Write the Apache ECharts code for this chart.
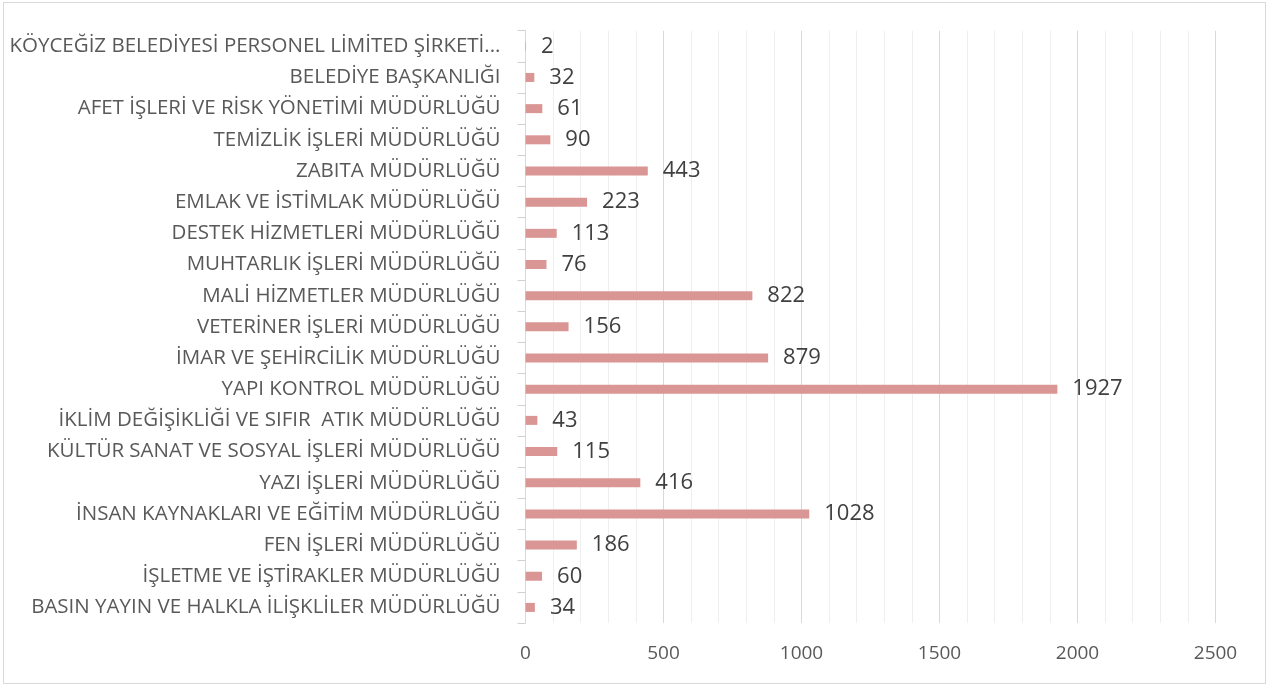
<!DOCTYPE html>
<html>
<head>
<meta charset="utf-8">
<script src="https://cdn.jsdelivr.net/npm/echarts@6/dist/echarts.min.js"></script>
<style>
html,body{margin:0;padding:0;background:#fff;}
#wrap{position:absolute;left:3px;top:2px;width:1263px;height:682px;border:1px solid #d9d9d9;box-sizing:border-box;}
#chart{position:absolute;left:0;top:0;width:1269px;height:686px;}
</style>
</head>
<body>
<div id="wrap"></div>
<div id="chart"></div>
<script>
const categories = [
  "KÖYCEĞİZ BELEDİYESİ PERSONEL LİMİTED ŞİRKETİ...",
  "BELEDİYE BAŞKANLIĞI",
  "AFET İŞLERİ VE RİSK YÖNETİMİ MÜDÜRLÜĞÜ",
  "TEMİZLİK İŞLERİ MÜDÜRLÜĞÜ",
  "ZABITA MÜDÜRLÜĞÜ",
  "EMLAK VE İSTİMLAK MÜDÜRLÜĞÜ",
  "DESTEK HİZMETLERİ MÜDÜRLÜĞÜ",
  "MUHTARLIK İŞLERİ MÜDÜRLÜĞÜ",
  "MALİ HİZMETLER MÜDÜRLÜĞÜ",
  "VETERİNER İŞLERİ MÜDÜRLÜĞÜ",
  "İMAR VE ŞEHİRCİLİK MÜDÜRLÜĞÜ",
  "YAPI KONTROL MÜDÜRLÜĞÜ",
  "İKLİM DEĞİŞİKLİĞİ VE SIFIR  ATIK MÜDÜRLÜĞÜ",
  "KÜLTÜR SANAT VE SOSYAL İŞLERİ MÜDÜRLÜĞÜ",
  "YAZI İŞLERİ MÜDÜRLÜĞÜ",
  "İNSAN KAYNAKLARI VE EĞİTİM MÜDÜRLÜĞÜ",
  "FEN İŞLERİ MÜDÜRLÜĞÜ",
  "İŞLETME VE İŞTİRAKLER MÜDÜRLÜĞÜ",
  "BASIN YAYIN VE HALKLA İLİŞKLİLER MÜDÜRLÜĞÜ"
];
const values = [2, 32, 61, 90, 443, 223, 113, 76, 822, 156, 879, 1927, 43, 115, 416, 1028, 186, 60, 34];
const xTicks = [0, 500, 1000, 1500, 2000, 2500];

const chart = echarts.init(document.getElementById('chart'));
const FONT = 'Open Sans';
chart.setOption({
  animation: false,
  grid: {left: 525.5, right: 53.5, top: 30.7, bottom: 63},
  xAxis: {
    type: 'value',
    min: xTicks[0], max: xTicks[xTicks.length - 1], interval: 500,
    axisLine: {show: false},
    axisTick: {show: false},
    axisLabel: {color: '#595959', fontFamily: FONT, fontSize: 19, margin: 21, formatter: v => String(v)},
    splitLine: {show: true, lineStyle: {color: '#d9d9d9', width: 1}},
    minorTick: {show: false, splitNumber: 5},
    minorSplitLine: {show: true, lineStyle: {color: '#efefef', width: 1}}
  },
  yAxis: {
    type: 'category',
    inverse: true,
    data: categories,
    axisLine: {show: true, lineStyle: {color: '#d9d9d9'}},
    axisTick: {show: true, length: 8, lineStyle: {color: '#d0d0d0'}},
    axisLabel: {color: '#595959', fontFamily: FONT, fontSize: 20.5, margin: 25}
  },
  series: [{
    type: 'bar',
    data: values,
    barWidth: 9,
    itemStyle: {color: '#DA9694'},
    label: {show: true, position: 'right', distance: 15, color: '#404040', fontFamily: FONT, fontSize: 22}
  }]
});
</script>
</body>
</html>
